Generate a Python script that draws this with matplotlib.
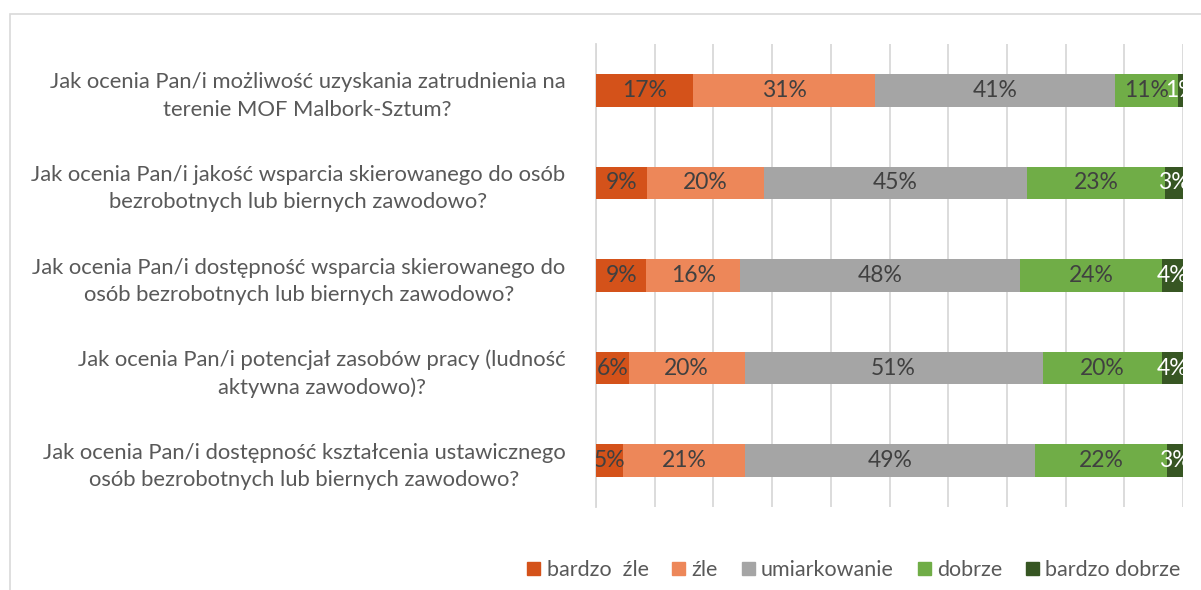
import numpy as np
import matplotlib.pyplot as plt
from matplotlib.patches import Rectangle, Patch

plt.rcParams['font.family'] = ['Lato', 'DejaVu Sans']

# pytania (od góry)
pytania = [
    "Jak ocenia Pan/i możliwość uzyskania zatrudnienia na\nterenie MOF Malbork-Sztum?",
    "Jak ocenia Pan/i jakość wsparcia skierowanego do osób\nbezrobotnych lub biernych zawodowo?",
    "Jak ocenia Pan/i dostępność wsparcia skierowanego do\nosób bezrobotnych lub biernych zawodowo?",
    "Jak ocenia Pan/i potencjał zasobów pracy (ludność\naktywna zawodowo)?",
    "Jak ocenia Pan/i dostępność kształcenia ustawicznego\nosób bezrobotnych lub biernych zawodowo?",
]

# odpowiedzi w % dla kazdego pytania
bardzo_zle = [16.6, 8.7, 8.6, 5.6, 4.6]
zle = [30.9, 19.9, 16.0, 19.7, 20.8]
umiarkowanie = [40.9, 44.9, 47.6, 50.8, 49.4]
dobrze = [10.8, 23.4, 24.2, 20.3, 22.4]
bardzo_dobrze = [0.8, 3.1, 3.6, 3.6, 2.8]

serie = ["bardzo  źle", "źle", "umiarkowanie", "dobrze", "bardzo dobrze"]
kolory = ["#D4521A", "#ED8759", "#A5A5A5", "#70AD47", "#375623"]
dane = [bardzo_zle, zle, umiarkowanie, dobrze, bardzo_dobrze]

fig = plt.figure(figsize=(12.01, 5.90), dpi=100)
ax = fig.add_axes([596/1201, 1-507/590, 587/1201, 463/590])

# ramka wykresu
fig.patches.append(Rectangle((10/1201, -0.1), 1.2, 1-14/590+0.1, transform=fig.transFigure,
                             fill=False, edgecolor="#D9D9D9", lw=1.2))

y = np.arange(len(pytania))
lewo = np.zeros(len(pytania))
for i in range(len(serie)):
    v = np.array(dane[i])
    ax.barh(y, v, left=lewo, height=0.35, color=kolory[i], label=serie[i], zorder=3)
    kolor_txt = "white" if i == 4 else "#404040"
    for j in range(len(v)):
        t = ax.text(lewo[j] + v[j]/2, y[j], "%.0f%%" % v[j], ha="center", va="center",
                    fontsize=16.5, color=kolor_txt, zorder=4)
        t.set_clip_on(True)
    lewo = lewo + v

ax.set_xlim(0, 100)
ax.set_ylim(len(pytania)-0.5, -0.5)
ax.set_xticks(np.arange(0, 101, 10))
ax.xaxis.set_ticklabels([])
ax.tick_params(axis="x", length=0)
ax.grid(axis="x", color="#D9D9D9", lw=1.3, zorder=0)
ax.set_yticks(y)
ax.set_yticklabels(pytania, multialignment="center", fontsize=15.8, color="#595959",
                   linespacing=1.45)
ax.tick_params(axis="y", length=0, pad=22)
for s in ["top", "right", "bottom"]:
    ax.spines[s].set_visible(False)
ax.spines["left"].set_color("#D9D9D9")
ax.spines["left"].set_linewidth(1.3)

uchwyty = [Patch(color=kolory[i], label=serie[i]) for i in range(len(serie))]
fig.legend(handles=uchwyty, loc="center", bbox_to_anchor=(854/1201, 1-570/590), ncol=5,
           frameon=False, fontsize=15.5, labelcolor="#595959", handlelength=0.6,
           handleheight=0.6, handletextpad=0.3, columnspacing=1.1)

plt.savefig("out.png", dpi=100)
